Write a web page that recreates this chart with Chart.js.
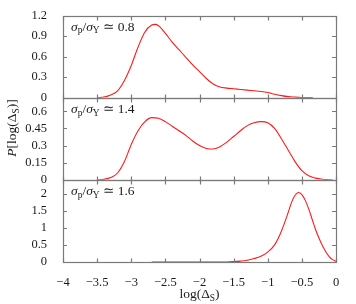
<!DOCTYPE html>
<html>
<head>
<meta charset="utf-8">
<script src="https://cdn.jsdelivr.net/npm/chart.js@4.4.1/dist/chart.umd.min.js"></script>
<style>
  html, body { margin: 0; padding: 0; background: #fff; }
  #wrap { width: 356px; height: 304px; position: relative; }
</style>
</head>
<body>
<div id="wrap"><canvas id="grafico"></canvas></div>
<script>
// eixo x compartilhado, log(Delta_S)
const xTicks = [-4, -3.5, -3, -2.5, -2, -1.5, -1, -0.5, 0];

// painel 1: sigma_p/sigma_Y ~ 0.8
const x1 = [-3.5, -3.4, -3.3, -3.2, -3.1, -3.0, -2.9, -2.8, -2.7, -2.65, -2.6, -2.5, -2.4, -2.3, -2.2, -2.1, -2.0, -1.9, -1.8, -1.7, -1.6, -1.5, -1.4, -1.3, -1.2, -1.1, -1.0, -0.9, -0.8, -0.7, -0.6, -0.5, -0.4, -0.34];
const p1 = [0, 0.01, 0.04, 0.1, 0.25, 0.47, 0.74, 0.96, 1.06, 1.07, 1.05, 0.94, 0.81, 0.7, 0.59, 0.48, 0.38, 0.28, 0.2, 0.155, 0.14, 0.13, 0.12, 0.11, 0.1, 0.09, 0.075, 0.05, 0.03, 0.015, 0.008, 0.003, 0.001, 0];

// painel 2: sigma_p/sigma_Y ~ 1.4
const x2 = [-3.5, -3.4, -3.3, -3.2, -3.1, -3.0, -2.9, -2.8, -2.7, -2.6, -2.5, -2.4, -2.3, -2.2, -2.1, -2.0, -1.9, -1.8, -1.7, -1.6, -1.5, -1.4, -1.3, -1.2, -1.1, -1.0, -0.9, -0.8, -0.7, -0.6, -0.5, -0.4, -0.3, -0.2, -0.1, -0.05];
const p2 = [0, 0.005, 0.02, 0.06, 0.16, 0.31, 0.43, 0.51, 0.545, 0.54, 0.51, 0.47, 0.43, 0.39, 0.34, 0.3, 0.275, 0.27, 0.29, 0.33, 0.38, 0.43, 0.475, 0.5, 0.51, 0.5, 0.45, 0.36, 0.26, 0.16, 0.08, 0.035, 0.015, 0.005, 0.001, 0];

// painel 3: sigma_p/sigma_Y ~ 1.6
const x3 = [-2.7, -2.5, -2.0, -1.6, -1.5, -1.4, -1.3, -1.2, -1.1, -1.0, -0.9, -0.8, -0.7, -0.65, -0.6, -0.55, -0.5, -0.45, -0.4, -0.35, -0.3, -0.25, -0.2, -0.15, -0.1, -0.05, 0];
const p3 = [0, 0, 0, 0.002, 0.01, 0.025, 0.05, 0.1, 0.17, 0.29, 0.5, 0.9, 1.45, 1.75, 1.95, 2.03, 1.97, 1.8, 1.55, 1.25, 0.95, 0.7, 0.48, 0.3, 0.16, 0.07, 0.02];

const rotulos = ["0.8", "1.4", "1.6"];

const fonteSerif = '"Liberation Serif", "DejaVu Serif", serif';
const corTexto = "#1a1a1a";
const corBorda = "#7a7a7a";

function pontos(xs, ys) {
  return xs.map((v, i) => ({ x: v, y: ys[i] }));
}

function serie(xs, ys, eixo) {
  return {
    data: pontos(xs, ys),
    yAxisID: eixo,
    borderColor: "#ff1a1a",
    borderWidth: 1.1,
    pointRadius: 0,
    fill: false,
    cubicInterpolationMode: "monotone",
  };
}

function menos(v) {
  v = Math.round(v * 100) / 100;
  return v < 0 ? "\u2212" + Math.abs(v) : String(v);
}

// desenha texto com subscritos / italico
function textoRico(ctx, partes, x, y, tam, alinhar) {
  let total = 0;
  const medidas = partes.map((p) => {
    const t = p.sub ? tam * 0.7 : tam;
    ctx.font = (p.it ? "italic " : "") + t + "px " + fonteSerif;
    const w = ctx.measureText(p.t).width;
    total += w;
    return w;
  });
  let cx = alinhar === "center" ? x - total / 2 : x;
  ctx.textBaseline = "alphabetic";
  ctx.textAlign = "left";
  partes.forEach((p, i) => {
    const t = p.sub ? tam * 0.7 : tam;
    ctx.font = (p.it ? "italic " : "") + t + "px " + fonteSerif;
    ctx.fillText(p.t, cx, p.sub ? y + tam * 0.22 : y);
    cx += medidas[i];
  });
}

const eixoY = (max, passo) => ({
  type: "linear",
  position: "left",
  stack: "paineis",
  stackWeight: 1,
  min: 0,
  max: max,
  grid: { display: false },
  border: { display: false },
  ticks: {
    stepSize: passo,
    includeBounds: false,
    autoSkip: false,
    padding: 8,
    color: corTexto,
    font: { family: fonteSerif, size: 12.5 },
    callback: (v) => menos(v),
  },
  afterFit: (s) => { s.width = 57; },
});

const molduras = {
  id: "molduras",
  afterDatasetsDraw(chart) {
    const ctx = chart.ctx;
    const area = chart.chartArea;
    const sx = chart.scales.x;
    ctx.save();
    ctx.strokeStyle = corBorda;
    ctx.lineWidth = 1.2;
    ["y1", "y2", "y3"].forEach((id, k) => {
      const s = chart.scales[id];
      const t = Math.round(s.top) + 0.5;
      const b = Math.round(s.bottom) + 0.5;
      ctx.strokeRect(Math.round(area.left) + 0.5, t, Math.round(area.right) - Math.round(area.left), b - t);
      ctx.beginPath();
      s.ticks.forEach((tk) => {
        const py = Math.round(s.getPixelForValue(tk.value)) + 0.5;
        ctx.moveTo(area.left, py); ctx.lineTo(area.left + 4, py);
        ctx.moveTo(area.right, py); ctx.lineTo(area.right - 4, py);
      });
      sx.ticks.forEach((tk) => {
        const px = Math.round(sx.getPixelForValue(tk.value)) + 0.5;
        ctx.moveTo(px, t); ctx.lineTo(px, t + 4);
        ctx.moveTo(px, b); ctx.lineTo(px, b - 4);
      });
      ctx.stroke();

      ctx.fillStyle = corTexto;
      textoRico(ctx, [
        { t: "\u03c3", it: true }, { t: "p", sub: true }, { t: "/" },
        { t: "\u03c3", it: true }, { t: "Y", sub: true }, { t: " \u2243 " + rotulos[k] },
      ], area.left + 8, s.top + 15, 13.5, "left");
    });

    // titulos dos eixos
    ctx.fillStyle = corTexto;
    textoRico(ctx, [{ t: "log(\u0394" }, { t: "S", sub: true }, { t: ")" }],
      (area.left + area.right) / 2, 298, 13.5, "center");
    ctx.translate(16, 128);
    ctx.rotate(-Math.PI / 2);
    textoRico(ctx, [{ t: "P", it: true }, { t: "[log(\u0394" }, { t: "S", sub: true }, { t: ")]" }],
      0, 0, 13.5, "center");
    ctx.restore();
  },
};

const config = {
  type: "line",
  data: {
    datasets: [serie(x1, p1, "y1"), serie(x2, p2, "y2"), serie(x3, p3, "y3")],
  },
  options: {
    responsive: true,
    maintainAspectRatio: false,
    animation: false,
    layout: { padding: { left: 6, right: 20, top: 6, bottom: 0 } },
    plugins: { legend: { display: false }, tooltip: { enabled: false } },
    scales: {
      x: {
        type: "linear",
        min: -4,
        max: 0,
        grid: { display: false },
        border: { display: false },
        afterBuildTicks: (s) => { s.ticks = xTicks.map((v) => ({ value: v })); },
        ticks: {
          padding: 5,
          autoSkip: false,
          maxRotation: 0,
          color: corTexto,
          font: { family: fonteSerif, size: 12.5 },
          callback: (v) => menos(v),
        },
        afterFit: (s) => { s.height = 42; },
      },
      // empilhados de baixo para cima
      y3: eixoY(2.4, 0.5),
      y2: eixoY(0.72, 0.15),
      y1: eixoY(1.2, 0.3),
    },
  },
  plugins: [molduras],
};

let myChart = new Chart(document.getElementById("grafico"), config);
</script>
</body>
</html>
